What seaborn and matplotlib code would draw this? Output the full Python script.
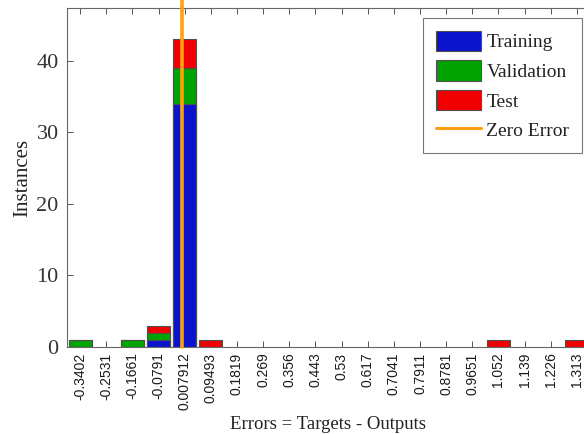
import numpy as np
import pandas as pd
import matplotlib
matplotlib.use("Agg")
import matplotlib.pyplot as plt
import seaborn as sns
from matplotlib.patches import Patch
from matplotlib.lines import Line2D

# Bin centres of the error histogram (20 bins) and their tick labels
bin_centers = [-0.3402, -0.2531, -0.1661, -0.0791, 0.007912, 0.09493, 0.1819,
               0.269, 0.356, 0.443, 0.53, 0.617, 0.7041, 0.7911, 0.8781,
               0.9651, 1.052, 1.139, 1.226, 1.313]
tick_labels = ["-0.3402", "-0.2531", "-0.1661", "-0.0791", "0.007912", "0.09493",
               "0.1819", "0.269", "0.356", "0.443", "0.53", "0.617", "0.7041",
               "0.7911", "0.8781", "0.9651", "1.052", "1.139", "1.226", "1.313"]

# Instances per bin for each data split
training   = [0, 0, 0, 1, 34, 0, 0, 0, 0, 0, 0, 0, 0, 0, 0, 0, 0, 0, 0, 0]
validation = [1, 0, 1, 1, 5, 0, 0, 0, 0, 0, 0, 0, 0, 0, 0, 0, 0, 0, 0, 0]
test       = [0, 0, 0, 1, 4, 1, 0, 0, 0, 0, 0, 0, 0, 0, 0, 0, 1, 0, 0, 1]

zero_error = 0.0

colors = {"Training": "#0A14CC", "Validation": "#00A300", "Test": "#F00000"}
zero_color = "#FFA010"

sns.set_theme(style="white")
plt.rcParams["font.family"] = ["Liberation Serif", "DejaVu Serif"]

fig = plt.figure(figsize=(5.84, 4.34), dpi=100)
# axes box runs past the right edge of the figure
ax = fig.add_axes([67 / 584, 1 - 347 / 434, (590 - 67) / 584, (347 - 8) / 434])

tr = np.array(training, dtype=float)
va = np.array(validation, dtype=float)
te = np.array(test, dtype=float)

# Stacked bars drawn as cumulative totals, tallest first
layers = [("Test", tr + va + te), ("Validation", tr + va), ("Training", tr)]
for name, heights in layers:
    df = pd.DataFrame({"bin": tick_labels, "count": heights})
    df = df[df["count"] > 0]
    sns.barplot(data=df, x="bin", y="count", order=tick_labels,
                color=colors[name], saturation=1, width=0.88,
                edgecolor="#505050", linewidth=0.8, ax=ax, zorder=2)

# Zero-error line in categorical coordinates
step = bin_centers[1] - bin_centers[0]
zero_pos = 4 + (zero_error - bin_centers[4]) / step
ax.plot([zero_pos, zero_pos], [0, 60], color=zero_color, lw=2.6,
        clip_on=False, zorder=5)

ax.set_xlim(-0.5, 19.5)
ax.set_ylim(0, 47.4)
ax.set_yticks([0, 10, 20, 30, 40])
ax.set_xticks(range(len(tick_labels)))
ax.set_xticklabels(tick_labels, rotation=90, family="Liberation Sans",
                   fontsize=10)
ax.tick_params(axis="y", labelsize=16, pad=6)
ax.tick_params(axis="x", pad=4)
ax.tick_params(axis="both", direction="in", length=4, width=0.7,
               colors="#555555", top=True, bottom=True, left=True, right=False)
for lab in ax.get_yticklabels():
    lab.set_color("#333333")
for lab in ax.get_xticklabels():
    lab.set_color("#1a1a1a")

for side in ["left", "top", "bottom"]:
    ax.spines[side].set_color("#666666")
    ax.spines[side].set_linewidth(0.8)
ax.spines["right"].set_visible(False)

ax.set_xlabel("Errors = Targets - Outputs", fontsize=13.5, color="#222222",
              labelpad=4)
ax.set_ylabel("Instances", fontsize=15, color="#222222", labelpad=3)

handles = [Patch(facecolor=colors["Training"], edgecolor="#505050", lw=0.8),
           Patch(facecolor=colors["Validation"], edgecolor="#505050", lw=0.8),
           Patch(facecolor=colors["Test"], edgecolor="#505050", lw=0.8),
           Line2D([], [], color=zero_color, lw=2.2)]
leg = ax.legend(handles, ["Training", "Validation", "Test", "Zero Error"],
                loc="upper right", bbox_to_anchor=(582 / 584, 1 - 18 / 434),
                bbox_transform=fig.transFigure, borderaxespad=0,
                fontsize=14, frameon=True, fancybox=False, framealpha=1,
                handlelength=2.3, handleheight=1.25, handletextpad=0.3,
                labelspacing=0.45, borderpad=0.65)
leg.get_frame().set_edgecolor("#777777")
leg.get_frame().set_linewidth(0.8)
for t in leg.get_texts():
    t.set_color("#222222")

fig.savefig("out.png", dpi=100)
